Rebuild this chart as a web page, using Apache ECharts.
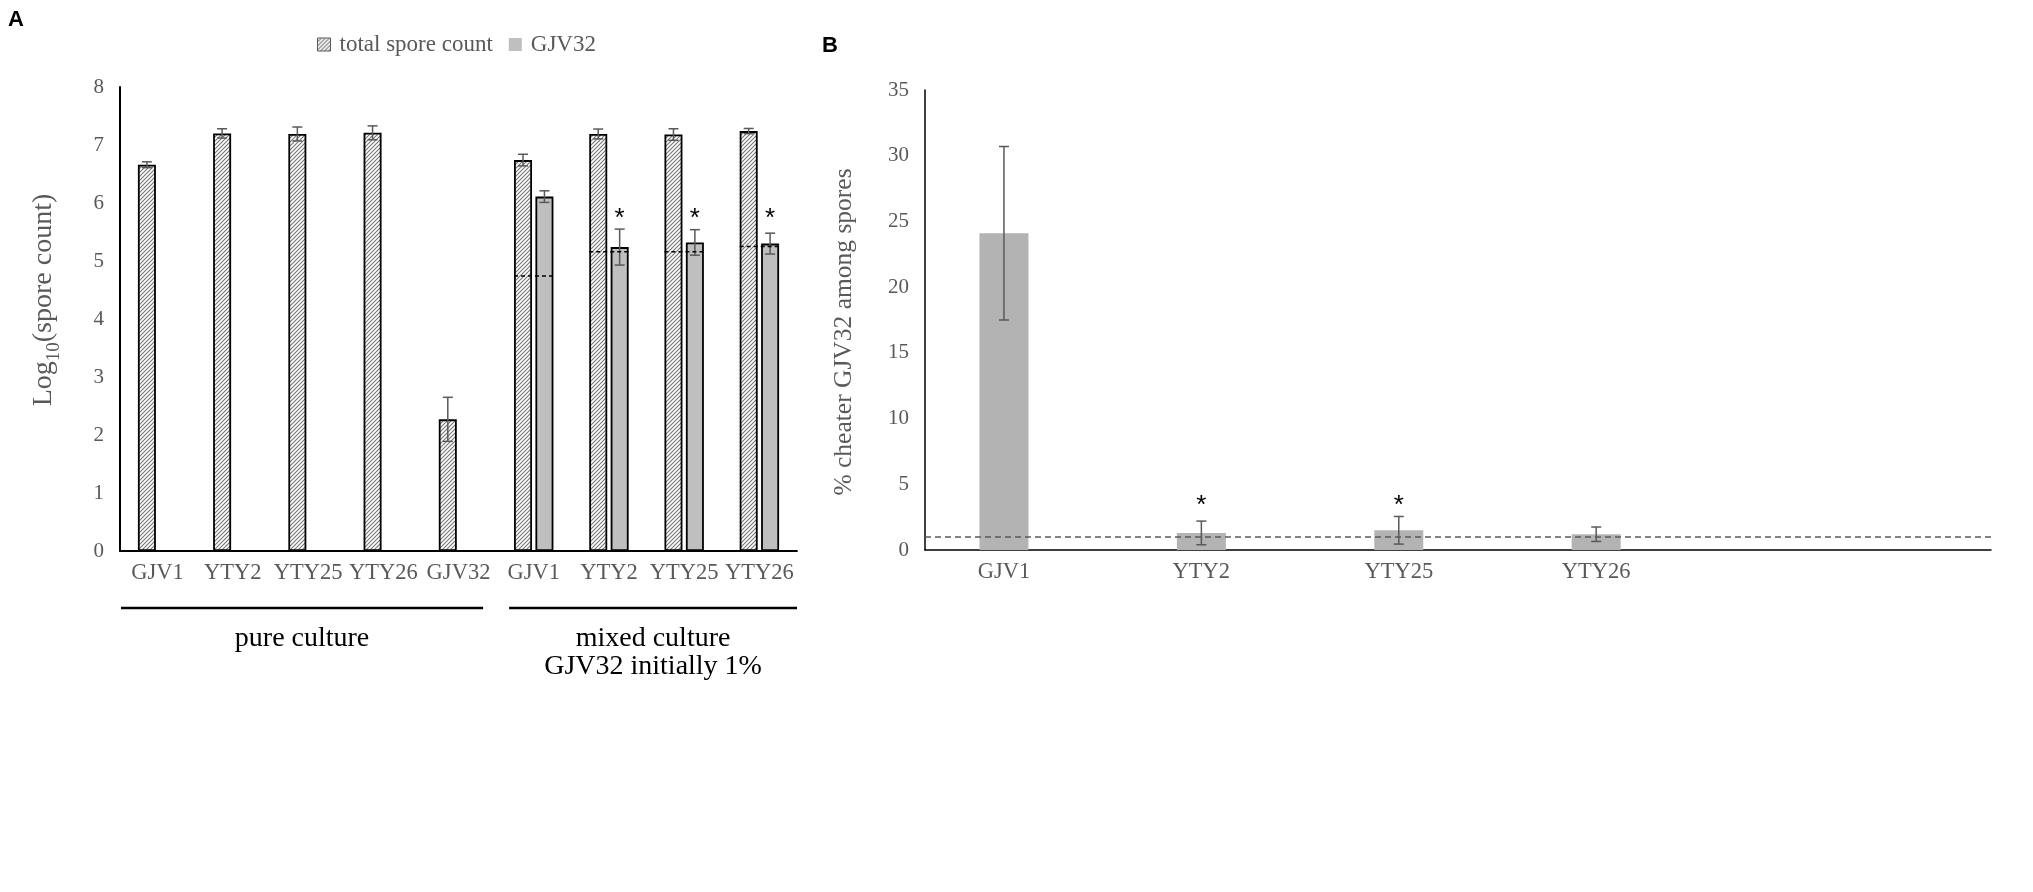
<!DOCTYPE html>
<html>
<head>
<meta charset="utf-8">
<script src="https://cdn.jsdelivr.net/npm/echarts@6/dist/echarts.min.js"></script>
<style>
  html, body { margin: 0; padding: 0; background: #fff; }
  #c { width: 2033px; height: 892px; }
</style>
</head>
<body>
<div id="c"></div>
<script>
// ---------- Panel A data ----------
const catsA      = ['GJV1', 'YTY2', 'YTY25', 'YTY26', 'GJV32', 'GJV1', 'YTY2', 'YTY25', 'YTY26'];
const totalA     = [6.66, 7.20, 7.19, 7.21, 2.27, 6.74, 7.19, 7.18, 7.24];
const totalErrA  = [0.05, 0.08, 0.12, 0.12, 0.38, 0.10, 0.085, 0.10, 0.045];
const gjvA       = [null, null, null, null, null, 6.11, 5.24, 5.32, 5.30];
const gjvErrA    = [null, null, null, null, null, 0.10, 0.31, 0.22, 0.18];
const expectedA  = [null, null, null, null, null, 4.74, 5.16, 5.16, 5.25];
const starA      = [null, null, null, null, null, null, 5.8, 5.8, 5.8];
const ticksA     = ['0', '1', '2', '3', '4', '5', '6', '7', '8'];
const groupNames = ['pure culture', 'mixed culture', 'GJV32 initially 1%'];

// ---------- Panel B data ----------
const catsB      = ['GJV1', 'YTY2', 'YTY25', 'YTY26'];
const pctB       = [24.1, 1.3, 1.5, 1.2];
const pctErrB    = [6.6, 0.9, 1.05, 0.55];
const initialB   = 1.0;
const starB      = [null, 3.7, 3.7, null];
const ticksB     = ['0', '5', '10', '15', '20', '25', '30', '35'];

// ---------- styling ----------
const SERIF = "'Liberation Serif','Times New Roman',serif";
const SANS  = "'Liberation Sans',Arial,sans-serif";
const GREY  = '#595959';
const BAR_W = 18, BAR_GAP = 0.19;
const OFF   = BAR_W * (1 + BAR_GAP) / 2;   // centre offset of each bar of the pair
const CAP   = 5;

function hatchCanvas() {
  const s = 4;
  const c = document.createElement('canvas');
  c.width = s; c.height = s;
  const g = c.getContext('2d');
  g.fillStyle = '#ffffff';
  g.fillRect(0, 0, s, s);
  g.strokeStyle = '#777777';
  g.lineWidth = 1.15;
  g.beginPath();
  g.moveTo(-1, s + 1); g.lineTo(s + 1, -1);
  g.moveTo(-1, 1); g.lineTo(1, -1);
  g.moveTo(s - 1, s + 1); g.lineTo(s + 1, s - 1);
  g.stroke();
  return c;
}
const hatch = { image: hatchCanvas(), repeat: 'repeat' };

function errRender(offset) {
  return function (params, api) {
    const i = api.value(0), v = api.value(1), e = api.value(2);
    const x  = api.coord([i, v])[0] + offset;
    const y1 = api.coord([i, v + e])[1];
    const y2 = api.coord([i, v - e])[1];
    const st = { stroke: GREY, lineWidth: 1.5 };
    return {
      type: 'group',
      children: [
        { type: 'line', shape: { x1: x, y1: y1, x2: x, y2: y2 }, style: st },
        { type: 'line', shape: { x1: x - CAP, y1: y1, x2: x + CAP, y2: y1 }, style: st },
        { type: 'line', shape: { x1: x - CAP, y1: y2, x2: x + CAP, y2: y2 }, style: st }
      ]
    };
  };
}
function starRender(offset, size) {
  return function (params, api) {
    const p = api.coord([api.value(0), api.value(1)]);
    return {
      type: 'text',
      style: {
        text: '*', x: p[0] + offset, y: p[1] + size * 0.18,
        textAlign: 'center', textVerticalAlign: 'middle',
        fontFamily: SANS, fontSize: size, fill: '#000'
      }
    };
  };
}
function pick(vals, errs) {
  const out = [];
  vals.forEach((v, i) => { if (v != null) out.push(errs ? [i, v, errs[i]] : [i, v]); });
  return out;
}

const chart = echarts.init(document.getElementById('c'));

const option = {
  animation: false,
  backgroundColor: '#fff',
  grid: [
    { left: 120, top: 87, width: 677, height: 464 },
    { left: 925, top: 90, width: 1066, height: 460 }
  ],
  legend: {
    left: 312, top: 28,
    itemWidth: 13, itemHeight: 13, itemGap: 16,
    selectedMode: false,
    textStyle: { fontFamily: SERIF, fontSize: 23, color: GREY, padding: [0, 0, 0, 4] },
    data: [
      { name: 'total spore count', icon: 'rect', itemStyle: { borderColor: GREY, borderWidth: 1 } },
      { name: 'GJV32', icon: 'rect', itemStyle: { borderWidth: 0 } }
    ]
  },
  xAxis: [
    {
      gridIndex: 0, type: 'category', data: catsA,
      axisLine: { lineStyle: { color: '#000', width: 1.8 } },
      axisTick: { show: false },
      axisLabel: { interval: 0, margin: 11, fontFamily: SERIF, fontSize: 22.5, color: GREY }
    },
    {
      gridIndex: 1, type: 'value', min: -0.4, max: 5.0,
      axisLine: { onZero: false, lineStyle: { color: '#000', width: 1.5 } },
      axisTick: { show: false },
      splitLine: { show: false },
      axisLabel: {
        customValues: [0, 1, 2, 3],
        formatter: v => catsB[Math.round(v)] || '',
        margin: 11, fontFamily: SERIF, fontSize: 22.5, color: GREY
      }
    }
  ],
  yAxis: [
    {
      gridIndex: 0, type: 'value', min: 0, max: 8, interval: 1,
      name: '{a|Log}{s|10}{a|(spore count)}',
      nameLocation: 'middle', nameRotate: 90, nameGap: 56,
      nameTextStyle: {
        padding: [0, 0, 0, 38],
        rich: {
          a: { fontFamily: SERIF, fontSize: 28, color: GREY, lineHeight: 40 },
          s: { fontFamily: SERIF, fontSize: 19, color: GREY, lineHeight: 14, verticalAlign: 'bottom' }
        }
      },
      axisLine: { show: true, onZero: false, lineStyle: { color: '#000', width: 2 } },
      axisTick: { show: false },
      splitLine: { show: false },
      axisLabel: { margin: 16, fontFamily: SERIF, fontSize: 21, color: GREY,
                   formatter: (v, i) => ticksA[i] }
    },
    {
      gridIndex: 1, type: 'value', min: 0, max: 35, interval: 5,
      name: '% cheater GJV32 among spores',
      nameLocation: 'middle', nameRotate: 90, nameGap: 64,
      nameTextStyle: { fontFamily: SERIF, fontSize: 25.5, color: GREY, lineHeight: 34, padding: [0, 24, 0, 0] },
      axisLine: { show: true, onZero: false, lineStyle: { color: '#000', width: 1.5 } },
      axisTick: { show: false },
      splitLine: { show: false },
      axisLabel: { margin: 16, fontFamily: SERIF, fontSize: 21, color: GREY,
                   formatter: (v, i) => ticksB[i] }
    }
  ],
  series: [
    {
      name: 'total spore count', type: 'bar', xAxisIndex: 0, yAxisIndex: 0,
      data: totalA, barWidth: BAR_W, barGap: (BAR_GAP * 100) + '%',
      itemStyle: { color: hatch, borderColor: '#000', borderWidth: 1.8 }
    },
    {
      name: 'GJV32', type: 'bar', xAxisIndex: 0, yAxisIndex: 0,
      data: gjvA, barWidth: BAR_W, barGap: (BAR_GAP * 100) + '%',
      itemStyle: { color: '#bfbfbf', borderColor: '#000', borderWidth: 1.8 }
    },
    {
      name: 'errTotal', type: 'custom', xAxisIndex: 0, yAxisIndex: 0, z: 5,
      renderItem: errRender(-OFF), data: pick(totalA, totalErrA), clip: false
    },
    {
      name: 'errGJV', type: 'custom', xAxisIndex: 0, yAxisIndex: 0, z: 5,
      renderItem: errRender(OFF), data: pick(gjvA, gjvErrA), clip: false
    },
    {
      name: 'expected', type: 'custom', xAxisIndex: 0, yAxisIndex: 0, z: 6,
      renderItem: function (params, api) {
        const p = api.coord([api.value(0), api.value(1)]);
        return {
          type: 'line',
          shape: { x1: p[0] - OFF - BAR_W / 2, y1: p[1], x2: p[0] + OFF + BAR_W / 2, y2: p[1] },
          style: { stroke: '#000', lineWidth: 1.5, lineDash: [4, 3] }
        };
      },
      data: pick(expectedA)
    },
    {
      name: 'starA', type: 'custom', xAxisIndex: 0, yAxisIndex: 0, z: 6,
      renderItem: starRender(OFF, 26), data: pick(starA)
    },
    {
      name: 'pctB', type: 'bar', xAxisIndex: 1, yAxisIndex: 1,
      data: pctB.map((v, i) => [i, v]), barWidth: 49,
      itemStyle: { color: '#b3b3b3' },
      markLine: {
        silent: true, symbol: ['none', 'none'], label: { show: false },
        lineStyle: { color: GREY, type: [6, 4], width: 1.5 },
        data: [{ yAxis: initialB }]
      }
    },
    {
      name: 'errB', type: 'custom', xAxisIndex: 1, yAxisIndex: 1, z: 5,
      renderItem: errRender(0), data: pick(pctB, pctErrB), clip: false
    },
    {
      name: 'starB', type: 'custom', xAxisIndex: 1, yAxisIndex: 1, z: 6,
      renderItem: starRender(0, 26), data: pick(starB)
    }
  ]
};
chart.setOption(option);

// group brackets below panel A, placed from the category axis
const px = i => chart.convertToPixel({ xAxisIndex: 0 }, i);
const band = px(1) - px(0);
const baseY = chart.convertToPixel({ yAxisIndex: 0 }, 0);
const lineY = baseY + 57;
const pureL = px(0) - band / 2 + 1, pureR = px(4) + band / 2 - 13;
const mixL  = px(5) - band / 2 + 13, mixR = px(8) + band / 2;
const txt = (t, x, y, font, size, fill, weight) => ({
  type: 'text',
  style: { text: t, x: x, y: y, textAlign: 'center', textVerticalAlign: 'middle',
           fontFamily: font, fontSize: size, fontWeight: weight || 'normal', fill: fill }
});
chart.setOption({
  graphic: [
    { type: 'line', shape: { x1: pureL, y1: lineY, x2: pureR, y2: lineY }, style: { stroke: '#000', lineWidth: 2.5 } },
    { type: 'line', shape: { x1: mixL, y1: lineY, x2: mixR, y2: lineY }, style: { stroke: '#000', lineWidth: 2.5 } },
    txt(groupNames[0], (pureL + pureR) / 2, lineY + 31, SERIF, 28, '#000'),
    txt(groupNames[1], (mixL + mixR) / 2, lineY + 31, SERIF, 28, '#000'),
    txt(groupNames[2], (mixL + mixR) / 2, lineY + 59, SERIF, 28, '#000'),
    { type: 'text', style: { text: 'A', x: 8, y: 9, fontFamily: SANS, fontSize: 22, fontWeight: 'bold', fill: '#000' } },
    { type: 'text', style: { text: 'B', x: 822, y: 35, fontFamily: SANS, fontSize: 22, fontWeight: 'bold', fill: '#000' } }
  ]
});
</script>
</body>
</html>
